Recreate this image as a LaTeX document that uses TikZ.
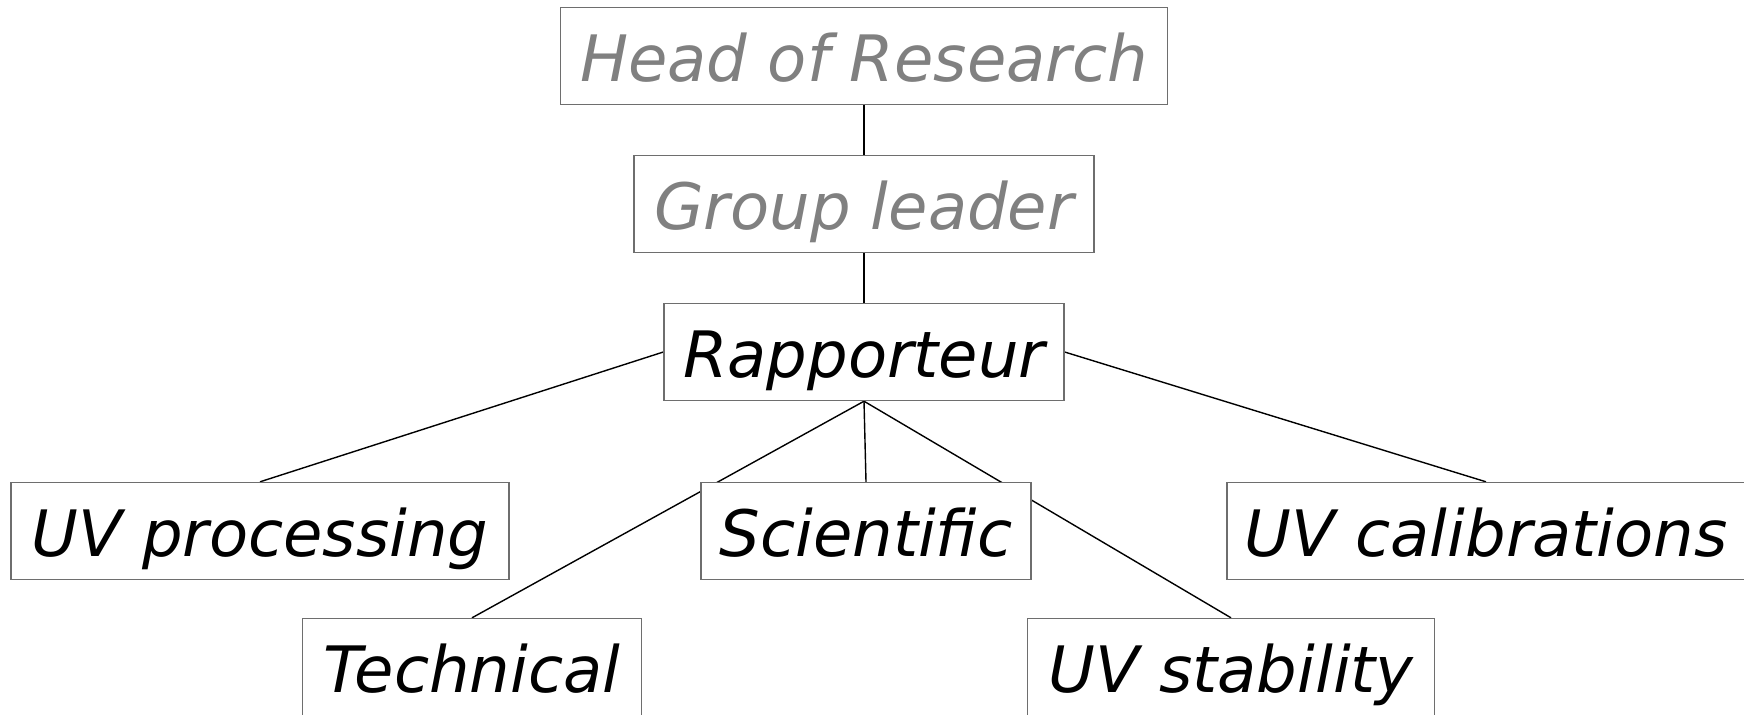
\documentclass[tikz,border=0pt]{standalone}
\usepackage{fontspec}
\setmainfont{DejaVu Sans}[ItalicFont={DejaVu Sans Oblique}]
\usetikzlibrary{backgrounds}
\definecolor{boxgray}{HTML}{6E6E6E}
\definecolor{textgray}{HTML}{808080}
\begin{document}
\begin{tikzpicture}
[x=0.5pt,y=-0.5pt,
 boxdecorate/.style={shape=rectangle,draw=boxgray,line width=0.7pt,fill=white,
   inner sep=0pt,minimum height=48.5pt,text height=28pt,text depth=3pt,
   font=\fontsize{32}{38}\selectfont\itshape},
 linedecorate/.style={line width=0.7pt,draw=black}]
\useasboundingbox (0,0) rectangle (1744,714);
%% boxes
\foreach \nodename/\x/\y/\boxwidth/\txt/\shade in {
  head/864/56/303.5/Head of Research/textgray,
  group/864/204/230/Group leader/textgray,
  rapp/864/352/200/Rapporteur/black,
  uvproc/260/531/249/UV processing/black,
  scient/866/531/165/Scientific/black,
  uvcalib/1486/531/259/UV calibrations/black,
  techn/472/667/169.5/Technical/black,
  uvstab/1231/667/203.5/UV stability/black} {
  \node (\nodename) at (\x,\y) [boxdecorate,minimum width=\boxwidth pt,text=\shade] {\txt};
}
%% connections
\begin{pgfonlayer}{background}
\path
\foreach \startnode/\endnode in {
  head.south/group.north, group.south/rapp.north, rapp.west/uvproc.north,
  rapp.east/uvcalib.north, rapp.south/scient.north, rapp.south/techn.north,
  rapp.south/uvstab.north} {
  (\startnode) edge[linedecorate] (\endnode)
};
\end{pgfonlayer}
\end{tikzpicture}
\end{document}
